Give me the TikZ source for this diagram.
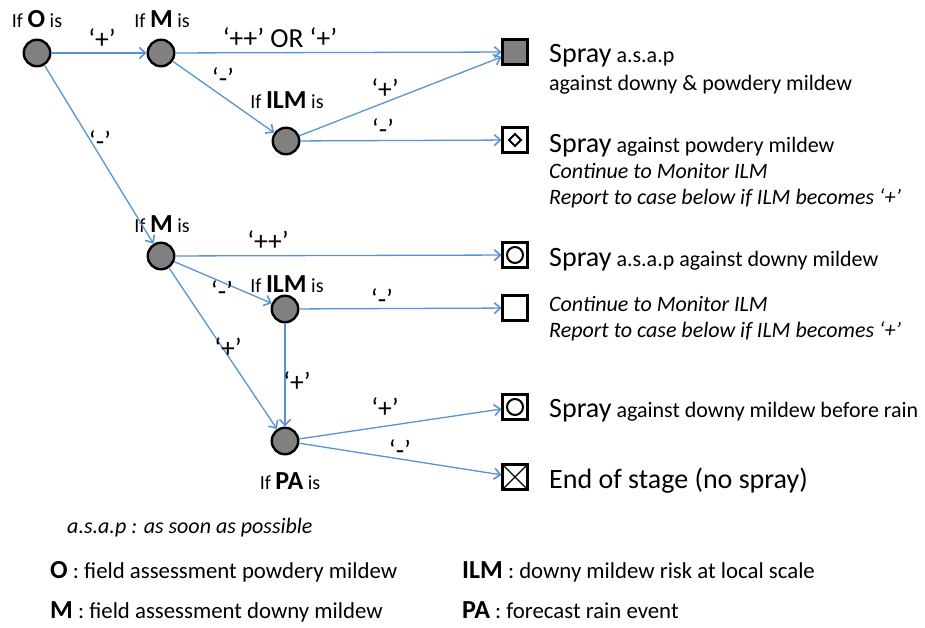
\documentclass[tikz,border=0pt]{standalone}
\usepackage{fontspec}
\setmainfont{Carlito}
\usetikzlibrary{arrows.meta}
\definecolor{lblue}{RGB}{88,148,212}
\definecolor{dgray}{RGB}{128,128,128}
\newcommand{\fA}{\fontsize{28}{32}\selectfont}
\newcommand{\fB}{\fontsize{22}{26}\selectfont}
\newcommand{\fE}{\fontsize{27.5}{30}\selectfont}
\newcommand{\fG}{\fontsize{22.8}{26}\selectfont}
\newcommand{\fC}{\fontsize{26}{28}\selectfont\bfseries}
\newcommand{\fL}{\fontsize{20}{24}\selectfont}
\tikzset{
  dnode/.style={circle, draw=black, line width=2.4pt, fill=dgray, minimum size=26.5pt, inner sep=0pt},
  obox/.style={rectangle, draw=black, line width=2.6pt, minimum size=24.5pt, inner sep=0pt},
  conn/.style={draw=lblue, line width=1.3pt, -{Straight Barb[length=6pt,width=11pt,line width=1.6pt]}},
  elab/.style={font=\fE, inner sep=0pt},
  txt/.style={anchor=base west, inner sep=0pt, font=\fB},
  gtxt/.style={anchor=base west, inner sep=0pt, font=\fG},
  nlab/.style={anchor=base, inner sep=0pt, font=\fL},
}
\begin{document}
\begin{tikzpicture}[x=1pt,y=-1pt]
\path[use as bounding box, fill=white] (0,0) rectangle (925,627);

% decision nodes
\node[dnode] (o)    at (37,53) {};
\node[dnode] (m1)   at (161,53) {};
\node[dnode] (ilm1) at (286,141) {};
\node[dnode] (m2)   at (161,256) {};
\node[dnode] (ilm2) at (285,309) {};
\node[dnode] (pa)   at (285,441) {};

% node labels
\node[nlab] (lo)    at (37,27)  {If {\fC O} is};
\node[nlab] (lm1)   at (162,27) {If {\fC M} is};
\node[nlab] (lilm1) at (287,108) {If {\fC ILM} is};
\node[nlab] (lm2)   at (162,232) {If {\fC M} is};
\node[nlab] (lilm2) at (287,292) {If {\fC ILM} is};
\node[nlab] (lpa)   at (290,489) {If {\fC PA} is};

% outcome boxes
\node[obox, fill=dgray] (s1) at (515,52) {};
\node[obox] (s2) at (515,140) {};
\node[obox] (s3) at (515,255) {};
\node[obox] (s4) at (515,308) {};
\node[obox] (s5) at (515,407) {};
\node[obox] (s6) at (515,477) {};
\draw[line width=2pt] (s2.center) +(0,-6) -- +(6,0) -- +(0,6) -- +(-6,0) -- cycle;
\draw[line width=2pt] (s3.center) circle (8);
\draw[line width=2pt] (s5.center) circle (8);
\draw[line width=1.1pt] (s6.north west) -- (s6.south east) (s6.north east) -- (s6.south west);

% connectors
\draw[conn] (o) -- (m1);
\draw[conn] (m1) -- (s1);
\draw[conn] (m1) -- (ilm1);
\draw[conn] (ilm1) -- ([yshift=-5pt]s1.west);
\draw[conn] (ilm1) -- (s2);
\draw[conn] (o) -- (m2);
\draw[conn] (m2) -- (s3);
\draw[conn] (m2) -- (ilm2);
\draw[conn] (ilm2) -- (s4);
\draw[conn] (ilm2) -- (pa);
\draw[conn] (m2) -- (pa);
\draw[conn] (pa) -- (s5);
\draw[conn] (pa) -- (s6);

% edge labels
\node[elab] (e1)  at (102,39)  {‘+’};
\node[elab] (e2)  at (280,38)  {‘++’ OR ‘+’};
\node[elab] (e3)  at (223,78)  {‘-’};
\node[elab] (e4)  at (385,89)  {‘+’};
\node[elab] (e5)  at (383,129) {‘-’};
\node[elab] (e6)  at (100,141) {‘-’};
\node[elab] (e7)  at (268,241) {‘++’};
\node[elab] (e8)  at (222,291) {‘-’};
\node[elab] (e9)  at (382,299) {‘-’};
\node[elab] (e10) at (228,348) {‘+’};
\node[elab] (e11) at (297,382) {‘+’};
\node[elab] (e12) at (385,408) {‘+’};
\node[elab] (e13) at (400,450) {‘-’};

% outcome texts
\node[txt] (t1a) at (549,62)  {{\fA Spray} a.s.a.p};
\node[txt] (t1b) at (549,90)  {against downy \& powdery mildew};
\node[txt] (t2a) at (549,152) {{\fA Spray} against powdery mildew};
\node[txt] (t2b) at (549,178) {\itshape Continue to Monitor ILM};
\node[txt] (t2c) at (549,204) {\itshape Report to case below if ILM becomes ‘+’};
\node[txt] (t3)  at (549,266) {{\fA Spray} a.s.a.p against downy mildew};
\node[txt] (t4a) at (549,311) {\itshape Continue to Monitor ILM};
\node[txt] (t4b) at (549,337) {\itshape Report to case below if ILM becomes ‘+’};
\node[txt] (t5)  at (549,417) {{\fA Spray} against downy mildew before rain};
\node[txt] (t6)  at (549,488) {\fA End of stage (no spray)};

% legend
\node[txt]  (g0) at (67,533)  {\itshape a.s.a.p : as soon as possible};
\node[gtxt] (g1) at (50,578)  {{\fC O} : field assessment powdery mildew};
\node[gtxt] (g2) at (50,618)  {{\fC M} : field assessment downy mildew};
\node[gtxt] (g3) at (462,578) {{\fC ILM} : downy mildew risk at local scale};
\node[gtxt] (g4) at (462,618) {{\fC PA} : forecast rain event};
\end{tikzpicture}
\end{document}
